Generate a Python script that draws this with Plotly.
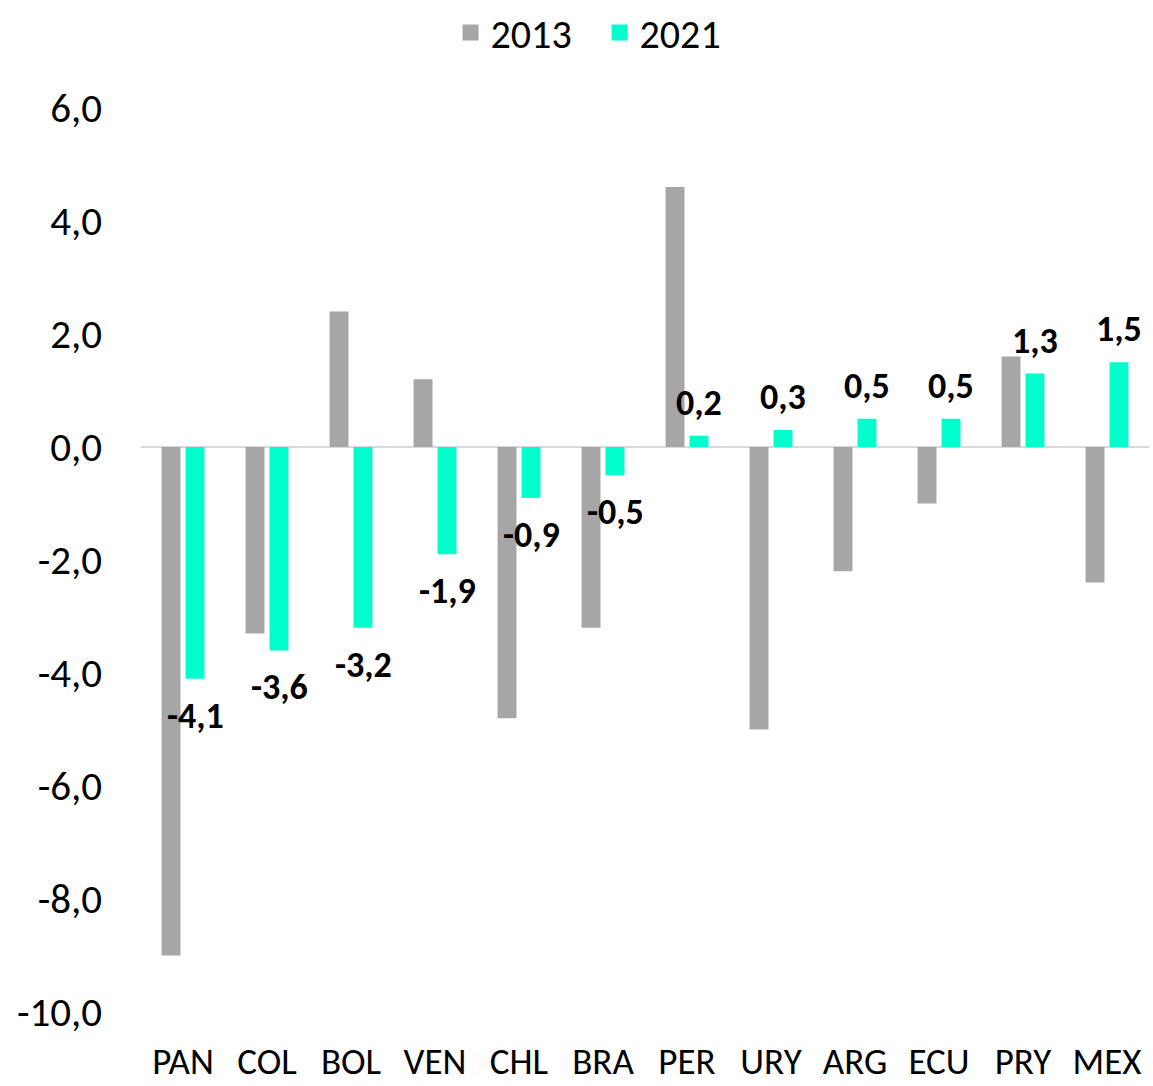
import plotly.graph_objects as go

categories = ["PAN", "COL", "BOL", "VEN", "CHL", "BRA", "PER", "URY", "ARG", "ECU", "PRY", "MEX"]
values_2013 = [-9.0, -3.3, 2.4, 1.2, -4.8, -3.2, 4.6, -5.0, -2.2, -1.0, 1.6, -2.4]
values_2021 = [-4.1, -3.6, -3.2, -1.9, -0.9, -0.5, 0.2, 0.3, 0.5, 0.5, 1.3, 1.5]
series_names = ["2013", "2021"]
y_ticks = [-10, -8, -6, -4, -2, 0, 2, 4, 6]


def fmt(v):
    return f"{v:.1f}".replace(".", ",")


FONT = "Carlito, Lato, sans-serif"
GRAY = "#a6a6a6"
TEAL = "#00ffcc"
colors = [GRAY, TEAL]

fig = go.Figure()
for name, vals, col in zip(series_names, [values_2013, values_2021], colors):
    fig.add_trace(go.Bar(x=categories, y=vals, name=name, showlegend=False,
                         marker=dict(color=col, line=dict(width=0))))
# legend entries (square swatches)
for name, col in zip(series_names, colors):
    fig.add_trace(go.Scatter(x=[None], y=[None], mode="markers", name=name,
                             marker=dict(symbol="square", size=24, color=col)))

for c, v in zip(categories, values_2021):
    fig.add_annotation(
        x=c, y=v, xref="x", yref="y",
        text=fmt(v),
        showarrow=False, xshift=12,
        yanchor="bottom" if v >= 0 else "top",
        yshift=9 if v >= 0 else -13,
        font=dict(family=FONT, size=36, color="black", weight="bold"),
    )

fig.update_layout(
    width=1153, height=1086,
    margin=dict(l=141, r=4, t=108, b=74, autoexpand=False),
    paper_bgcolor="white", plot_bgcolor="white",
    barmode="group", bargap=0.43, bargroupgap=0.21,
    font=dict(family=FONT, size=40, color="black"),
    showlegend=True,
    legend=dict(orientation="h", xref="container", x=0.520, xanchor="center",
                yref="container", y=1.0, yanchor="top", itemsizing="trace",
                entrywidth=104, entrywidthmode="pixels",
                font=dict(family=FONT, size=40, color="black")),
    xaxis=dict(showgrid=False, showline=False, ticks="", automargin=False,
               tickfont=dict(family=FONT, size=37, color="black"),
               ticklabelstandoff=24),
    yaxis=dict(range=[-10, 6], tickvals=y_ticks, ticktext=[fmt(t) for t in y_ticks],
               showgrid=False, showline=False, ticks="", automargin=False,
               zeroline=True, zerolinecolor="#d9d9d9", zerolinewidth=2,
               tickfont=dict(family=FONT, size=41, color="black"),
               ticklabelstandoff=38),
)

fig.write_html("out.html", config={"displayModeBar": False},
               post_script="document.body.style.margin='0';document.body.style.padding='0';")
